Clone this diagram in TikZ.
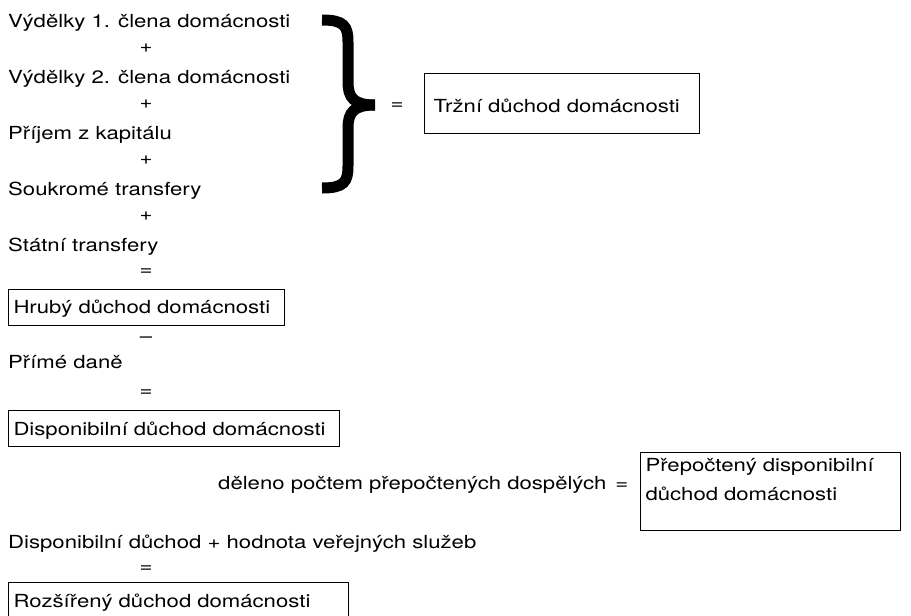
\documentclass[tikz,border=0pt]{standalone}
\usepackage{fontspec}
\setmainfont{TeX Gyre Heros}[FakeStretch=1.23]

\begin{document}
\begin{tikzpicture}[x=1pt, y=-1pt,
        every node/.style={font=\fontsize{18}{29}\selectfont},
        radek/.style={anchor=base west, inner sep=0pt},
        znak/.style={anchor=base, inner sep=0pt},
        box/.style={draw, rectangle, line width=1pt, anchor=north west, inner ysep=0pt, align=left},
        zavorka/.style={line width=11pt, line cap=butt}]
        \useasboundingbox (0,0) rectangle (911,616);
        % 各項目
        \node[radek] (V1) at (8,27) {Výdělky 1. člena domácnosti};
        \node[znak] (p1) at (146,52.5) {+};
        \node[radek] (V2) at (8,83) {Výdělky 2. člena domácnosti};
        \node[znak] (p2) at (146,108.5) {+};
        \node[radek] (Kap) at (8,139) {Příjem z kapitálu};
        \node[znak] (p3) at (146,164.5) {+};
        \node[radek] (Souk) at (8,195) {Soukromé transfery};
        \node[znak] (p4) at (146,220.5) {+};
        \node[radek] (Stat) at (8,251) {Státní transfery};
        \node[znak] (e1) at (146,275.5) {=};
        \node[box, inner xsep=5pt, text width=266pt, text height=24pt, text depth=12pt] (Hruby) at (8,289) {Hrubý důchod domácnosti};
        \node[znak] (m1) at (146,342) {–};
        \node[radek] (Dane) at (8,368) {Přímé daně};
        \node[znak] (e2) at (146,396.5) {=};
        \node[box, inner xsep=5pt, text width=321pt, text height=25pt, text depth=11pt] (Disp) at (8,410) {Disponibilní důchod domácnosti};
        % 右側
        \node[radek] (Del) at (218,489) {děleno počtem přepočtených dospělých\enspace=};
        \node[box, inner xsep=5pt, text width=250pt, text height=19pt, text depth=59pt] (Prep) at (640,452) {Přepočtený disponibilní\\důchod domácnosti};
        \node[radek] (Sluz) at (8,548) {Disponibilní důchod + hodnota veřejných služeb};
        \node[znak] (e3) at (146,572.5) {=};
        \node[box, inner xsep=5pt, text width=330pt, text height=25pt, text depth=15pt] (Rozs) at (8,582) {Rozšířený důchod domácnosti};
        % 括弧
        \draw[zavorka] (322,20) .. controls (344,20) and (348,26) .. (348,42) -- (348,82)
            .. controls (348,98) and (354,105) .. (375,105);
        \draw[zavorka] (322,188) .. controls (344,188) and (348,182) .. (348,166) -- (348,128)
            .. controls (348,112) and (354,105) .. (375,105);
        \node[znak] (e0) at (397,109.5) {=};
        \node[box, inner xsep=9pt, text width=257pt, text height=39pt, text depth=21pt] (Trzni) at (424,73) {Tržní důchod domácnosti};
\end{tikzpicture}
\end{document}
